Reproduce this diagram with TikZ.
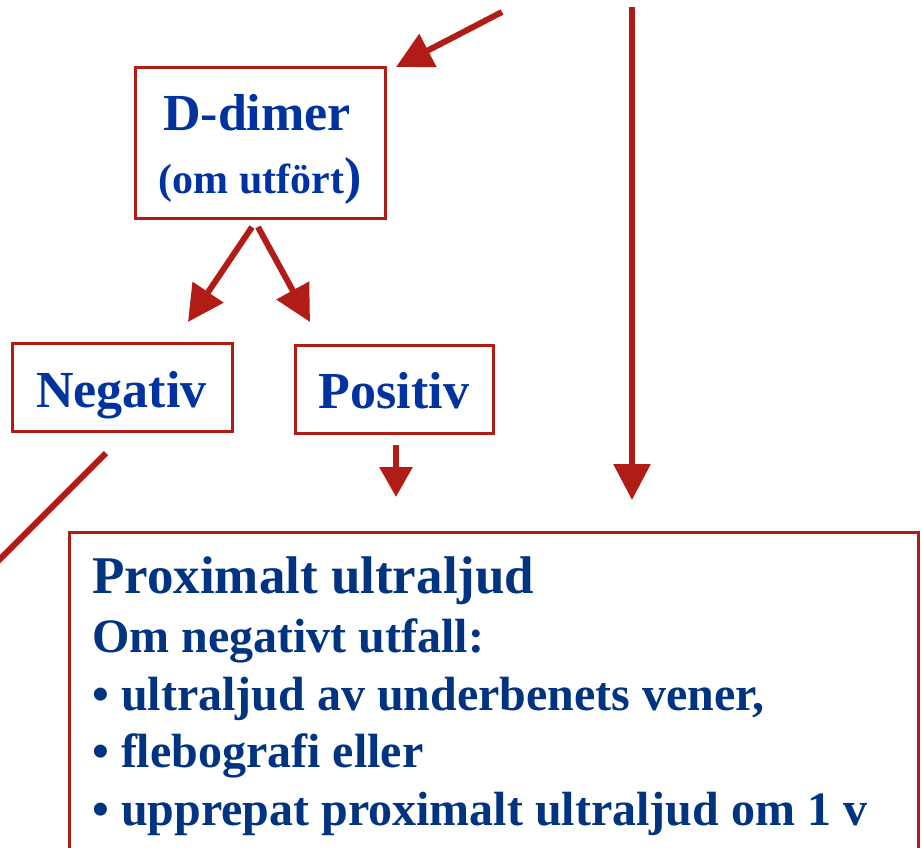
\documentclass[tikz,border=0pt]{standalone}
\usepackage{fontspec}
\setmainfont{Liberation Serif}
\usetikzlibrary{arrows.meta}
\definecolor{flowred}{RGB}{178,28,22}
\definecolor{boxblue}{RGB}{0,51,160}
\definecolor{navy}{RGB}{0,51,128}
\tikzset{
  boxframe/.style={draw=flowred, line width=3pt, fill=white, inner sep=0pt},
  flowarrow/.style={draw=flowred, line width=6pt, -{Triangle[length=36pt,width=36pt]}},
  flowline/.style={draw=flowred, line width=6pt},
  bigtxt/.style={text=boxblue, font=\bfseries\fontsize{52}{60}\selectfont, inner sep=0pt},
  smalltxt/.style={text=boxblue, font=\bfseries\fontsize{42}{50}\selectfont, inner sep=0pt},
  headtxt/.style={text=navy, font=\bfseries\fontsize{53}{60}\selectfont, inner sep=0pt, anchor=base west},
  bodytxt/.style={text=navy, font=\bfseries\fontsize{48}{56}\selectfont, inner sep=0pt, anchor=base west}
}
\begin{document}
\begin{tikzpicture}[x=1pt,y=-1pt]
\useasboundingbox (0,0) rectangle (922,847);
\clip (0,0) rectangle (922,847);
% boxes
\node[boxframe, minimum width=250pt, minimum height=151pt] (ddimer) at (260,142.5) {};
\node[boxframe, minimum width=220pt, minimum height=88pt] (neg) at (122,387) {};
\node[boxframe, minimum width=198pt, minimum height=88pt] (pos) at (394,389) {};
\node[boxframe, minimum width=849pt, minimum height=400pt, anchor=north west] (prox) at (68,531) {};
% texts
\node[bigtxt, anchor=base] (ddimerA) at (257,130) {D-dimer};
\node[smalltxt, anchor=base] (ddimerB) at (260,193) {(om utfört{\fontsize{52}{60}\selectfont)}};
\node[bigtxt, anchor=base] (negtxt) at (121.5,407) {Negativ};
\node[bigtxt, anchor=base] (postxt) at (394,408) {Positiv};
\node[headtxt] (l1) at (92,593) {Proximalt ultraljud};
\node[bodytxt] (l2) at (92,652) {Om negativt utfall:};
\node[bodytxt] (l3) at (92,710) {• ultraljud av underbenets vener,};
\node[bodytxt] (l4) at (92,767) {• flebografi eller};
\node[bodytxt] (l5) at (92,825) {• upprepat proximalt ultraljud om 1 v};
% connector coordinates
\coordinate (topA) at (502,12);
\coordinate (topAend) at (396,67);
\coordinate (topB) at (632,7);
\coordinate (topBend) at (632,500);
\coordinate (dL) at (252,227);
\coordinate (dLend) at (188,322);
\coordinate (dR) at (258,227);
\coordinate (dRend) at (310,322);
\coordinate (pA) at (396,445);
\coordinate (pAend) at (396,497);
\coordinate (nA) at (106,453);
\coordinate (nAend) at (-12,571);
% connectors
\draw[flowarrow] (topA) -- (topAend);
\draw[flowarrow] (topB) -- (topBend);
\draw[flowarrow] (dL) -- (dLend);
\draw[flowarrow] (dR) -- (dRend);
\draw[flowarrow, -{Triangle[length=30pt,width=32pt]}] (pA) -- (pAend);
\draw[flowline] (nA) -- (nAend);
\end{tikzpicture}
\end{document}
